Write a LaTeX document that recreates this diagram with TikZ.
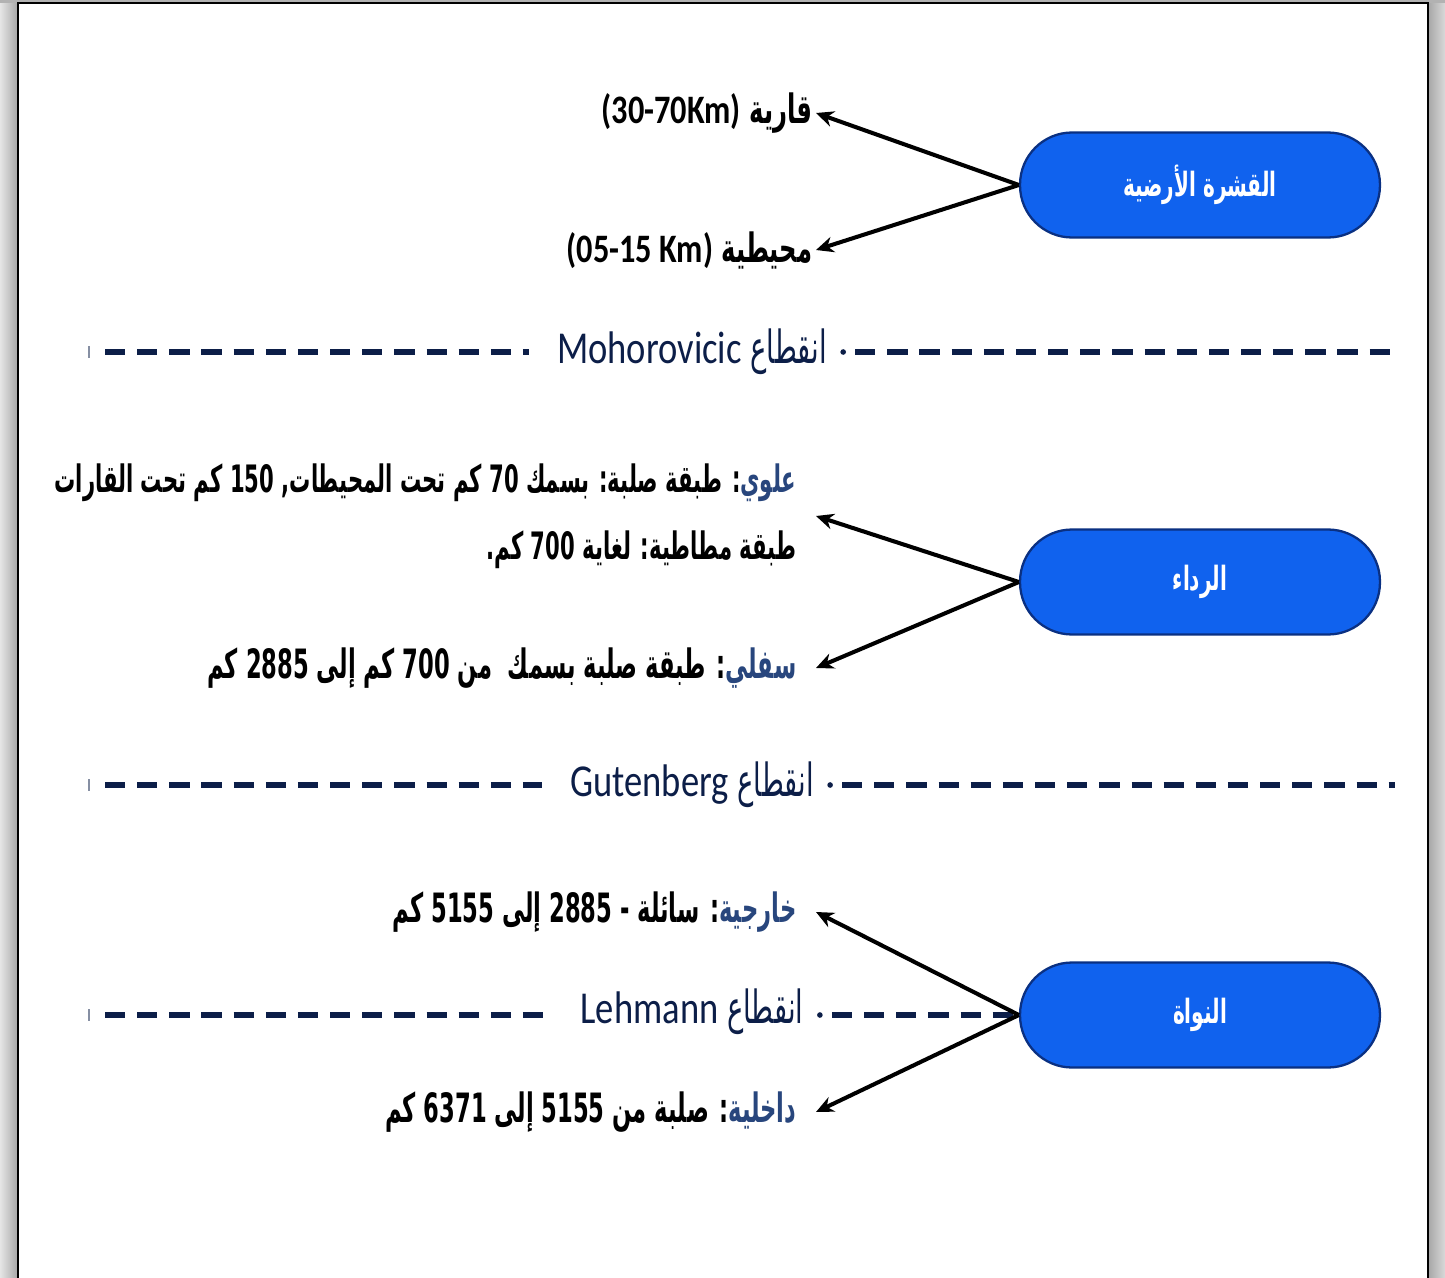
\documentclass[tikz,border=0pt]{standalone}
\usepackage{fontspec}
\setmainfont{Carlito}
\newfontfamily\arabicfont[Script=Arabic,FakeStretch=0.6]{DejaVu Sans}
\newfontfamily\arabicnarrow[Script=Arabic,FakeStretch=0.56]{DejaVu Sans}
\newfontfamily\arabickey[Script=Arabic,FakeStretch=0.56,Color=28467D]{DejaVu Sans}
\newfontfamily\latinfont[FakeStretch=0.8]{Carlito}
\TeXXeTstate=1
\usepackage{tikz}
\usetikzlibrary{positioning,arrows.meta,calc}
\usepackage{xcolor}
\definecolor{pillblue}{RGB}{16,98,238}
\definecolor{pilledge}{RGB}{10,48,130}
\definecolor{discnavy}{RGB}{12,30,72}
\newcommand{\artxt}[1]{{\arabicfont\beginR #1\endR}}
\newcommand{\arnarrow}[1]{{\arabicnarrow\beginR #1\endR}}
\newcommand{\ltrnum}[1]{\beginL #1\endL}
\newcommand{\keyword}[1]{{\arabickey #1}}

\begin{document}
\begin{tikzpicture}[
  x=0.02cm, y=-0.02cm,
  >={Stealth[length=10pt,width=9pt]},
  layer/.style={draw=pilledge, line width=1.3pt, fill=pillblue, rounded corners=1.04cm,
    minimum width=7.2cm, minimum height=2.1cm, inner sep=0pt, text=white,
    font=\fontsize{19}{22}\selectfont\bfseries},
  arr/.style={line width=2.3pt, ->},
  lbl/.style={anchor=east, align=right, inner sep=2pt,
    font=\fontsize{23}{38}\selectfont\bfseries},
  far/.style={inner xsep=11pt},
  disc/.style={draw=discnavy, line width=3.2pt, dash pattern=on 11.5pt off 6.8pt},
  disclbl/.style={text=discnavy, inner xsep=16pt, inner ysep=2pt,
    font=\fontsize{26}{30}\selectfont},
  dotmark/.style={fill=discnavy},
]
  % frame
  \useasboundingbox (0,0) rectangle (1445,1278);
  \shade[left color=black!10, right color=black!35] (0,0) rectangle (18,1278);
  \shade[left color=black!35, right color=black!15] (1428,0) rectangle (1445,1278);
  \fill[black!30] (0,0) rectangle (1445,3);
  \draw[fill=white, line width=1.4pt] (18,3) rectangle (1428,1290);

  % Layers (blue pills)
  \node[layer] (crust)  at (1200,185)  {\artxt{القشرة الأرضية}};
  \node[layer] (mantle) at (1200,582)  {\artxt{الرداء}};
  \node[layer] (core)   at (1200,1015) {\artxt{النواة}};

  % Crust labels
  \node[lbl] (cont)  at (816,113)
    {\artxt{قارية \ltrnum{{\latinfont(30-70Km)}}}};
  \node[lbl] (ocean) at (816,250)
    {\artxt{محيطية \ltrnum{{\latinfont(05-15 Km)}}}};

  % Mantle labels
  \node[lbl, far, font=\fontsize{21.5}{38}\selectfont\bfseries] (upper) at (816,516)
    {\arnarrow{\keyword{علوي}{}: طبقة صلبة{}: بسمك \ltrnum{70} كم تحت المحيطات{}, \ltrnum{150} كم تحت القارات}\\
     \arnarrow{طبقة مطاطية{}: لغاية \ltrnum{700} كم{}.}};
  \node[lbl, far] (lower) at (816,668)
    {\arnarrow{\keyword{سفلي}{}: طبقة صلبة بسمك\ \ من \ltrnum{700} كم إلى \ltrnum{2885} كم}};

  % Core labels
  \node[lbl, far] (outer) at (816,912)
    {\arnarrow{\keyword{خارجية}{}: سائلة - \ltrnum{2885} إلى \ltrnum{5155} كم}};
  \node[lbl, far] (inner) at (816,1112)
    {\arnarrow{\keyword{داخلية}{}: صلبة من \ltrnum{5155} إلى \ltrnum{6371} كم}};

  % Discontinuities
  \node[disclbl] (moho) at (692,352)
    {\artxt{انقطاع \ltrnum{{\latinfont Mohorovicic}}}};
  \node[disclbl] (gut) at (692,785)
    {\artxt{انقطاع \ltrnum{{\latinfont Gutenberg}}}};
  \node[disclbl] (leh) at (692,1012)
    {\artxt{انقطاع \ltrnum{{\latinfont Lehmann}}}};
  \coordinate (mohoL) at (105,352);
  \coordinate (mohoR) at (1395,352);
  \coordinate (gutL) at (105,785);
  \coordinate (gutR) at (1395,785);
  \coordinate (lehL) at (105,1015);

  \draw[disc] (mohoL) -- (moho.west |- mohoL);
  \draw[disc] (moho.east |- mohoL) -- (mohoR);
  \draw[disc] (gutL) -- (gut.west |- gutL);
  \draw[disc] (gut.east |- gutL) -- (gutR);
  \draw[disc] (lehL) -- (leh.west |- lehL);
  \draw[disc] (leh.east |- lehL) -- (core.west);
  % small marks
  \foreach \n/\c in {moho/mohoL, gut/gutL, leh/lehL} {
    \draw[discnavy!50, line width=0.8pt] ($(\c)+(-16,-6)$) -- ++(0,12);
    \fill[dotmark] ($(\n.east |- \c)+(-12,0)$) circle (1.6pt);
  }

  % Arrows
  \draw[arr] (crust.west) -- (cont.east);
  \draw[arr] (crust.west) -- (ocean.east);
  \draw[arr] (mantle.west) -- (upper.east);
  \draw[arr] (mantle.west) -- (lower.east);
  \draw[arr] (core.west) -- (outer.east);
  \draw[arr] (core.west) -- (inner.east);
\end{tikzpicture}
\end{document}
